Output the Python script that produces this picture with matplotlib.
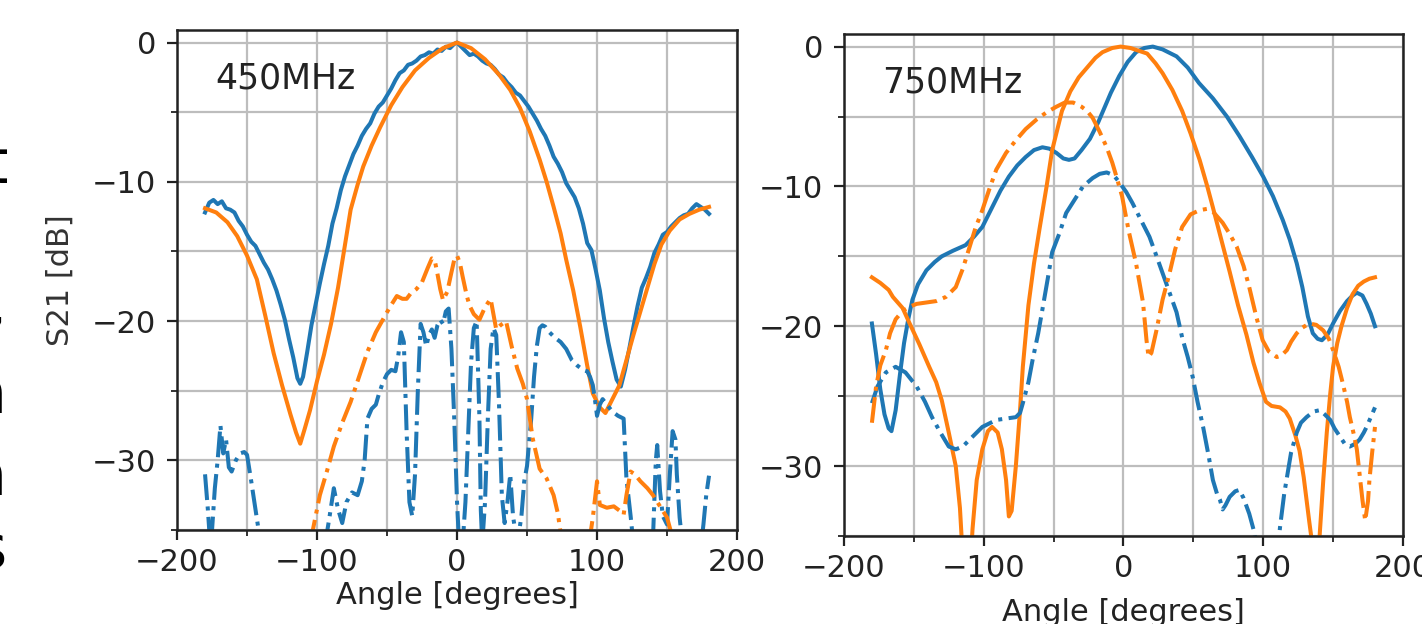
import matplotlib
matplotlib.use("Agg")
import matplotlib.pyplot as plt
from matplotlib.ticker import MultipleLocator

plt.rcParams['font.family'] = 'DejaVu Sans'
plt.rcParams['font.size'] = 22

# ---- 450 MHz, co-pol measured (blue solid) ----
ang_450_meas = [-180, -177, -174, -171, -168, -165, -162, -159, -156, -153, -150, -147, -144, -141,
                -138, -135, -132, -129, -126, -123, -120, -117, -114, -112, -110, -107, -104, -101,
                -98, -95, -92, -89, -86, -83, -80, -77, -74, -71, -68, -65, -62, -59, -56, -53,
                -50, -47, -44, -41, -38, -35, -32, -29, -26, -23, -20, -17, -14, -11, -8, -5, -2,
                0, 3, 6, 9, 12, 15, 18, 21, 24, 27, 30, 33, 36, 39, 42, 45, 48, 51, 54, 57, 60,
                63, 66, 69, 72, 75, 78, 81, 84, 87, 90, 93, 96, 99, 102, 105, 108, 111, 114, 117,
                120, 123, 126, 129, 132, 135, 138, 141, 144, 147, 150, 153, 156, 159, 162, 165,
                168, 171, 174, 177, 180]
s21_450_meas = [-12.2, -11.5, -11.3, -11.6, -11.4, -11.9, -12.0, -12.2, -12.8, -13.2, -13.8, -14.3,
                -14.6, -15.2, -15.8, -16.3, -17.0, -17.8, -18.8, -19.9, -21.3, -22.6, -24.1, -24.5,
                -24.0, -22.2, -20.3, -18.8, -17.3, -15.9, -14.6, -13.0, -11.9, -10.6, -9.6, -8.8,
                -8.0, -7.4, -6.7, -6.2, -5.8, -5.1, -4.6, -4.3, -3.8, -3.3, -2.7, -2.2, -2.0, -1.6,
                -1.5, -1.3, -1.0, -0.9, -0.7, -0.8, -0.5, -0.6, -0.3, -0.4, -0.1,
                0.0, -0.3, -0.6, -0.9, -0.8, -1.0, -1.3, -1.5, -1.6, -1.9, -2.3, -2.5, -2.9, -3.2,
                -3.6, -3.8, -4.2, -4.6, -5.1, -5.6, -6.2, -6.7, -7.4, -8.2, -8.7, -9.3, -10.1,
                -10.6, -11.1, -11.9, -13.0, -14.4, -14.9, -16.3, -17.8, -19.8, -21.5, -22.9,
                -24.2, -24.7, -23.5, -22.0, -20.4, -18.9, -17.6, -16.9, -16.1, -15.1, -14.5,
                -13.8, -13.6, -13.2, -12.9, -12.6, -12.4, -12.3, -11.9, -11.6, -11.8, -12.0, -12.3]

# ---- 450 MHz, co-pol simulated (orange solid) ----
ang_450_sim = [-180, -172, -164, -157, -150, -143, -137, -131, -125, -119, -115, -112, -109, -105,
               -100, -95, -90, -85, -80, -76, -71, -67, -61, -55, -47, -39, -30, -20, -10, 0,
               10, 20, 30, 38, 45, 52, 59, 64, 69, 74, 78, 83, 88, 93, 97, 102, 106, 110, 116,
               121, 126, 131, 136, 141, 146, 152, 159, 166, 173, 180]
s21_450_sim = [-11.9, -12.2, -12.9, -13.9, -15.3, -17.0, -19.6, -22.3, -24.6, -26.7, -28.0, -28.8,
               -27.8, -26.4, -24.3, -22.4, -20.2, -17.6, -14.5, -12.0, -10.2, -8.9, -7.4, -6.1,
               -4.5, -3.2, -2.0, -1.1, -0.4, 0.0, -0.4, -1.2, -2.3, -3.4, -4.7, -6.4, -8.4,
               -10.0, -11.8, -13.7, -15.6, -17.8, -20.4, -23.2, -25.2, -26.2, -26.6, -25.8,
               -24.6, -22.8, -21.0, -19.3, -17.6, -15.9, -14.5, -13.5, -12.7, -12.3, -12.0, -11.8]

# ---- 450 MHz, cross-pol measured (blue dash-dot) ----
ang_450_xmeas = [-180, -178, -176, -173, -171, -169, -167, -165, -163, -161, -158, -155, -152, -150,
                 -147, -144, -141, -138, -120, -105, -95, -91, -88, -85, -82, -79, -75, -71, -68,
                 -66, -64, -61, -58, -56, -53, -50, -47, -44, -42, -40, -38, -36, -34, -32, -30,
                 -28, -26, -24, -22, -20, -18, -16, -14, -12, -10, -8, -6, -4, -2, 0, 2, 4, 6, 8,
                 10, 12, 14, 16, 17, 18, 20, 22, 24, 26, 28, 30, 32, 34, 36, 38, 40, 43, 46, 48,
                 50, 53, 55, 57, 59, 61, 63, 66, 70, 74, 78, 82, 86, 90, 93, 95, 97, 99, 100, 102,
                 104, 107, 111, 115, 119, 121, 124, 126, 130, 136, 140, 142, 143, 145, 147, 150,
                 152, 154, 156, 157, 159, 161, 165, 172, 175, 176, 178, 180]
s21_450_xmeas = [-31.0, -33.5, -36.5, -32.0, -30.0, -27.5, -29.5, -28.5, -30.5, -30.8, -30.0, -29.5,
                 -29.4, -29.6, -31.5, -33.5, -35.5, -40.0, -42.0, -40.0, -36.5, -34.0, -32.0,
                 -33.5, -34.5, -33.0, -32.3, -32.5, -31.5, -30.0, -27.0, -26.3, -26.0, -25.3,
                 -24.4, -23.8, -23.5, -23.6, -22.5, -20.8, -21.5, -28.0, -33.0, -34.0, -31.0,
                 -25.0, -20.2, -20.8, -21.8, -21.0, -20.6, -21.2, -20.3, -19.9, -20.2, -19.3,
                 -19.1, -22.0, -27.0, -33.0, -37.0, -36.0, -33.0, -28.0, -23.0, -20.5, -20.0,
                 -27.0, -33.6, -36.0, -33.0, -27.0, -22.0, -20.5, -21.0, -26.0, -32.5, -34.5,
                 -33.0, -31.0, -34.0, -36.0, -34.0, -31.5, -30.4, -27.0, -24.0, -21.8, -20.5,
                 -20.3, -20.4, -20.8, -21.2, -21.5, -22.0, -22.8, -23.2, -23.5, -23.6, -24.0,
                 -24.6, -26.0, -26.8, -26.0, -25.6, -26.0, -26.5, -26.8, -27.0, -31.3, -34.0,
                 -36.0, -40.0, -40.0, -35.5, -30.0, -28.9, -32.2, -34.0, -34.6, -31.0, -27.9,
                 -28.5, -31.0, -34.1, -36.0, -40.0, -38.0, -35.5, -34.6, -32.5, -31.1]

# ---- 450 MHz, cross-pol simulated (orange dash-dot) ----
ang_450_xsim = [-180, -140, -110, -103, -98, -93, -88, -82, -76, -70, -64, -58, -53, -48, -43, -39,
                -36, -33, -29, -25, -21, -18, -16, -14, -12, -10, -7, -4, -2, 0, 2, 4, 7, 9, 12,
                16, 20, 24, 26, 28, 31, 35, 39, 43, 47, 50, 54, 59, 64, 69, 72, 74, 78, 85, 92,
                95, 97, 100, 102, 107, 112, 116, 119, 121, 124, 127, 131, 136, 140, 145, 150, 153,
                160, 180]
s21_450_xsim = [-45.0, -45.0, -38.0, -35.0, -32.5, -30.8, -29.0, -27.3, -25.8, -24.0, -22.2, -20.8,
                -19.9, -19.0, -18.2, -18.4, -18.4, -18.0, -17.7, -17.2, -16.2, -15.5, -15.6, -16.6,
                -17.7, -18.5, -17.9, -16.5, -15.6, -15.3, -15.8, -16.8, -18.2, -18.9, -19.5,
                -19.9, -19.0, -18.4, -19.5, -20.6, -20.3, -20.0, -21.8, -23.4, -24.5, -25.6,
                -28.4, -30.6, -31.3, -32.5, -33.8, -35.2, -38.0, -40.0, -38.0, -35.5, -34.1,
                -31.5, -33.2, -33.4, -33.3, -33.6, -33.9, -32.5, -30.8, -31.0, -31.5, -32.0,
                -32.5, -33.3, -34.1, -35.2, -38.0, -42.0]

# ---- 750 MHz, co-pol measured (blue solid) ----
ang_750_meas = [-180, -177, -174, -171, -168, -166, -163, -160, -157, -154, -151, -147, -141, -135,
                -130, -122, -113, -107, -101, -94, -88, -82, -76, -70, -64, -58, -53, -48, -43,
                -39, -35, -30, -24, -18, -15, -9, -3, 3, 9, 15, 21, 28, 38, 46, 54, 64, 74, 83,
                92, 100, 107, 114, 119, 124, 128, 132, 135.5, 139, 142, 146, 150, 155, 160, 164,
                167, 171, 174, 177, 180]
s21_750_meas = [-19.8, -22.0, -24.5, -26.3, -27.3, -27.5, -26.0, -23.5, -21.2, -19.5, -18.1, -17.0,
                -16.0, -15.4, -15.0, -14.6, -14.2, -13.6, -12.9, -11.5, -10.3, -9.3, -8.5, -7.9,
                -7.4, -7.2, -7.3, -7.6, -8.0, -8.1, -8.0, -7.4, -6.6, -5.4, -4.7, -3.3, -2.1,
                -1.1, -0.4, -0.1, 0.0, -0.2, -0.7, -1.5, -2.6, -3.7, -5.0, -6.4, -7.9, -9.3,
                -10.7, -12.4, -13.8, -15.5, -17.2, -19.3, -20.5, -20.9, -21.0, -20.6, -19.8,
                -18.9, -18.2, -17.8, -17.6, -17.8, -18.4, -19.1, -20.0]

# ---- 750 MHz, co-pol simulated (orange solid) ----
ang_750_sim = [-180, -174, -168, -165, -158, -153, -146, -139, -134, -130, -125, -120, -117, -115,
               -112, -110, -108, -105, -101, -97, -94, -90, -87, -84, -82, -80, -77, -74, -72,
               -68, -64, -60, -55, -51, -44, -38, -32, -26, -20, -15, -8, -2, 5, 11, 17, 23, 28,
               35, 42, 48, 54.5, 60, 64, 70, 76, 82, 88, 93, 97.5, 102, 106, 112, 116, 119, 123,
               126, 129, 131, 133, 135, 137, 139, 140.5, 143, 145.5, 148, 150, 153, 156, 160,
               164, 168, 172, 176, 180]
s21_750_sim = [-16.5, -16.9, -17.4, -17.9, -18.7, -19.8, -21.3, -22.9, -24.0, -25.3, -27.6, -30.0,
               -33.0, -36.5, -42.0, -38.0, -34.5, -31.0, -28.8, -27.5, -27.2, -27.6, -28.8,
               -31.0, -33.6, -33.2, -30.0, -26.0, -22.9, -18.5, -15.5, -13.0, -10.0, -7.4, -4.6,
               -3.2, -2.2, -1.5, -0.8, -0.4, -0.1, 0.0, -0.1, -0.3, -0.5, -1.2, -1.9, -3.1,
               -4.6, -6.2, -8.1, -10.0, -11.5, -13.8, -16.1, -18.5, -20.6, -22.6, -24.1, -25.4,
               -25.7, -25.8, -26.1, -26.6, -27.8, -28.9, -30.8, -32.4, -34.0, -35.5, -40.0,
               -38.0, -34.8, -31.0, -27.6, -24.8, -22.9, -21.2, -20.0, -18.7, -17.7, -17.1,
               -16.8, -16.6, -16.5]

# ---- 750 MHz, cross-pol measured (blue dash-dot) ----
ang_750_xmeas = [-180, -176, -170, -163, -156, -148, -142, -137, -131, -125, -120, -115, -108, -101,
                 -91, -84, -77, -74, -72, -68, -65, -61, -58, -54, -51, -46, -41, -34, -29, -22,
                 -17, -12, -7, -3, 2, 6.5, 12, 18.6, 23, 28, 33, 38, 42, 46, 49.5, 53, 57, 61, 64,
                 67, 69, 71, 73, 76, 80, 83, 86, 90, 93, 95, 100, 106, 110, 112, 115, 117, 120,
                 124, 127, 131, 136, 140.5, 144, 148, 151, 155, 159, 162, 166, 169, 172, 174, 177,
                 180]
s21_750_xmeas = [-25.5, -24.3, -23.3, -22.9, -23.3, -24.3, -25.4, -26.5, -27.6, -28.6, -28.8, -28.6,
                 -27.9, -27.2, -26.7, -26.6, -26.5, -26.2, -25.5, -24.0, -22.4, -20.5, -18.8,
                 -16.5, -14.7, -13.4, -11.9, -10.8, -10.0, -9.4, -9.1, -9.0, -9.2, -9.7, -10.4,
                 -11.2, -12.3, -13.6, -14.8, -16.2, -17.6, -19.0, -20.8, -22.2, -23.6, -25.4,
                 -27.2, -29.3, -31.0, -32.0, -32.4, -33.1, -32.8, -32.2, -31.8, -31.7, -32.3,
                 -33.4, -34.5, -35.5, -39.0, -39.0, -36.5, -34.4, -32.0, -30.8, -29.0, -27.6,
                 -26.9, -26.5, -26.1, -26.0, -26.3, -26.7, -27.3, -27.9, -28.5, -28.6, -28.4,
                 -28.1, -27.6, -27.2, -26.5, -25.8]

# ---- 750 MHz, cross-pol simulated (orange dash-dot) ----
ang_750_xsim = [-180, -177, -174, -170, -167, -163, -158, -153, -148, -141, -134, -127, -120, -115,
                -110, -106, -101, -96, -91, -84, -77, -70, -62, -55, -48, -42, -36, -30, -26, -22,
                -17, -12, -8, -5, -1, 4, 9, 14, 16.5, 18, 20, 23.6, 28, 33, 37, 42, 48, 54.5, 60,
                64, 71, 76, 81, 86, 90, 95, 99.6, 104, 109.7, 113, 117, 120, 124, 128, 133, 138,
                143, 147, 150, 154, 157, 160, 162, 165, 167, 169, 171, 173, 175, 176, 178, 180]
s21_750_xsim = [-26.9, -24.3, -22.8, -21.7, -20.5, -19.5, -18.9, -18.6, -18.4, -18.3, -18.2, -17.9,
                -17.2, -15.9, -14.3, -13.0, -11.7, -10.2, -8.8, -7.6, -6.7, -5.9, -5.2, -4.7,
                -4.3, -4.0, -4.0, -4.3, -4.6, -5.1, -6.1, -7.2, -8.3, -9.3, -10.7, -13.3, -15.5,
                -18.3, -21.0, -22.2, -21.9, -20.3, -18.1, -16.2, -14.5, -12.9, -12.0, -11.7,
                -11.6, -11.8, -12.6, -13.4, -14.3, -15.7, -17.2, -19.3, -21.0, -21.8, -22.2,
                -22.1, -21.7, -21.1, -20.5, -20.1, -19.8, -19.9, -20.3, -20.9, -21.7, -22.9,
                -24.1, -25.4, -26.5, -27.8, -28.8, -30.6, -32.4, -33.9, -32.5, -31.0, -29.0, -27.2]

BLUE = '#1f77b4'
ORANGE = '#ff7f0e'
LW = 2.9


def style_axes(ax, label):
    ax.set_xlim(-200, 200)
    ax.set_ylim(-35, 0.9)
    ax.xaxis.set_major_locator(MultipleLocator(100))
    ax.xaxis.set_minor_locator(MultipleLocator(50))
    ax.yaxis.set_major_locator(MultipleLocator(10))
    ax.yaxis.set_minor_locator(MultipleLocator(5))
    ax.grid(True, which='both', color='#bdbdbd', linewidth=1.6)
    ax.set_axisbelow(True)
    ax.tick_params(which='major', length=7, width=1.6, labelsize=22, colors='#222222')
    ax.tick_params(which='minor', length=4, width=1.3, colors='#222222')
    ax.tick_params(axis='x', which='major', pad=6)
    ax.tick_params(axis='y', which='major', pad=8)
    for sp in ax.spines.values():
        sp.set_linewidth(1.8)
        sp.set_color('#222222')
    ax.text(0.068, 0.884, label, transform=ax.transAxes, fontsize=25,
            va='baseline', ha='left', color='#222222')


fig = plt.figure(figsize=(14.22, 6.24), dpi=100)
ax1 = fig.add_axes([0.1245, 0.1506, 0.3938, 0.8013])
ax2 = fig.add_axes([0.5935, 0.141, 0.3931, 0.8045])

ax1.plot(ang_450_meas, s21_450_meas, '-', color=BLUE, lw=LW)
ax1.plot(ang_450_sim, s21_450_sim, '-', color=ORANGE, lw=LW)
ax1.plot(ang_450_xmeas, s21_450_xmeas, '-.', color=BLUE, lw=LW)
ax1.plot(ang_450_xsim, s21_450_xsim, '-.', color=ORANGE, lw=LW)
style_axes(ax1, '450MHz')
ax1.set_xlabel('Angle [degrees]', fontsize=22, color='#222222')
ax1.xaxis.set_label_coords(0.5, -0.102)
ax1.set_ylabel('S21 [dB]', fontsize=22, color='#333333')
ax1.yaxis.set_label_coords(-0.182, 0.5)

ax2.plot(ang_750_meas, s21_750_meas, '-', color=BLUE, lw=LW)
ax2.plot(ang_750_sim, s21_750_sim, '-', color=ORANGE, lw=LW)
ax2.plot(ang_750_xmeas, s21_750_xmeas, '-.', color=BLUE, lw=LW)
ax2.plot(ang_750_xsim, s21_750_xsim, '-.', color=ORANGE, lw=LW)
style_axes(ax2, '750MHz')
ax2.set_xlabel('Angle [degrees]', fontsize=22, color='#222222')
ax2.xaxis.set_label_coords(0.5, -0.123)

# fragments of the surrounding page text, cut by the left edge
frag_chars = ['t', ',', 'n', 'n', 's']
frag_base = [183, 325, 413, 495, 568]
frag_right = [8, 6, 6, 6, 7]
for ch, yb, xr in zip(frag_chars, frag_base, frag_right):
    fig.text(xr / 1422, 1 - yb / 624, ch, fontsize=43, ha='right', va='baseline', color='black')

fig.savefig('out.png', dpi=100)
